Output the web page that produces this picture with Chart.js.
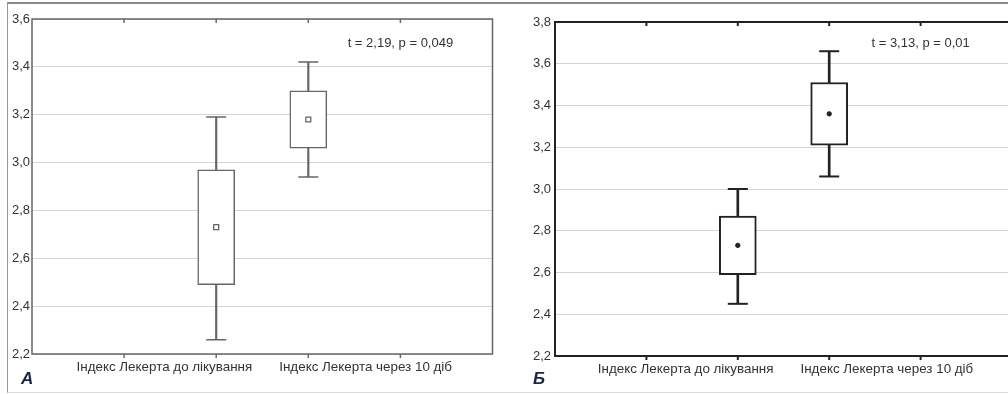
<!DOCTYPE html>
<html>
<head>
<meta charset="utf-8">
<script src="https://cdn.jsdelivr.net/npm/chart.js@4"></script>
<style>
  html, body { margin: 0; padding: 0; background: #fff; overflow: hidden; }
  body { width: 1008px; height: 394px; position: relative; }
  #frame { position: absolute; left: 7px; top: 2px; width: 1001px; height: 388px;
           border-top: 2px solid #8a8a8a; border-left: 1px solid #9a9a9a; border-bottom: 1px solid #dcdcdc; }
  canvas { position: absolute; top: 0; }
  #chartA { left: 0; }
  #chartB { left: 504px; }
  .letter { position: absolute; top: 369px; font: italic bold 17px "Liberation Sans", Arial, sans-serif; color: #1c2444; }
</style>
</head>
<body>
<div id="frame"></div>
<canvas id="chartA" width="504" height="394"></canvas>
<canvas id="chartB" width="520" height="394"></canvas>
<div class="letter" style="left:21px">А</div>
<div class="letter" style="left:533px">Б</div>
<script>
Chart.defaults.font.family = '"Liberation Sans", Arial, sans-serif';

var categories = ['Індекс Лекерта до лікування', 'Індекс Лекерта через 10 діб'];
var catPos = [2, 3];

// panel A
var meanA = [2.73, 3.18];
var boxLowA = [2.49, 3.06];
var boxHighA = [2.97, 3.30];
var whiskLowA = [2.26, 2.94];
var whiskHighA = [3.19, 3.42];
var yRangeA = [2.2, 3.6];
var statA = 't = 2,19, p = 0,049';

// panel B
var meanB = [2.73, 3.36];
var boxLowB = [2.59, 3.21];
var boxHighB = [2.87, 3.51];
var whiskLowB = [2.45, 3.06];
var whiskHighB = [3.00, 3.66];
var yRangeB = [2.2, 3.8];
var statB = 't = 3,13, p = 0,01';

var xTicks = [1, 2, 3, 4];

function pts(vals) {
    return vals.map(function(v, i) { return {x: catPos[i], y: v}; });
}
function spans(lo, hi) {
    return lo.map(function(v, i) { return {x: catPos[i], y: [v, hi[i]]}; });
}

var framePlugin = {
    id: 'frame',
    afterDatasetsDraw: function(chart, args, o) {
        var ctx = chart.ctx, a = chart.chartArea, xs = chart.scales.x, ys = chart.scales.y;
        ctx.save();
        ctx.strokeStyle = o.color;
        ctx.lineWidth = o.width;
        ctx.strokeRect(a.left, a.top, a.right - a.left, a.bottom - a.top);
        ctx.beginPath();
        xTicks.forEach(function(t) {
            var px = xs.getPixelForValue(t);
            ctx.moveTo(px, a.top);
            ctx.lineTo(px, a.top + 4);
            ctx.moveTo(px, a.bottom);
            ctx.lineTo(px, a.bottom + 4);
        });
        ctx.stroke();

        ctx.fillStyle = '#333';
        ctx.font = '13px "Liberation Sans", Arial, sans-serif';
        ctx.textBaseline = 'middle';
        ctx.textAlign = 'center';
        ctx.fillText(o.stat, xs.getPixelForValue(4), ys.getPixelForValue(o.statY));

        // category labels, pushed apart around the midpoint of the two boxes
        var mid = xs.getPixelForValue((catPos[0] + catPos[1]) / 2);
        var ly = a.bottom + 13;
        ctx.font = '13.4px "Liberation Sans", Arial, sans-serif';
        ctx.textAlign = 'right';
        ctx.fillText(categories[0], mid - 10, ly);
        ctx.textAlign = 'left';
        ctx.fillText(categories[1], mid + 17, ly);
        ctx.restore();
    }
};

function makeChart(id, p) {
    return new Chart(document.getElementById(id), {
        type: 'bar',
        data: {
            datasets: [
                {type: 'scatter', data: pts(p.mean), pointStyle: p.meanStyle, radius: p.meanRadius,
                 backgroundColor: p.meanFill, borderColor: p.color, borderWidth: p.meanBorder},
                {type: 'scatter', data: pts(p.whiskLow).concat(pts(p.whiskHigh)), pointStyle: 'line',
                 radius: 10, borderColor: p.color, borderWidth: p.lw},
                {data: spans(p.boxLow, p.boxHigh), grouped: false, barThickness: 37,
                 backgroundColor: '#fff', borderColor: p.color, borderWidth: p.lw, borderSkipped: false},
                {data: spans(p.boxHigh, p.whiskHigh), grouped: false, barThickness: p.lw,
                 backgroundColor: p.color, borderWidth: 0},
                {data: spans(p.whiskLow, p.boxLow), grouped: false, barThickness: p.lw,
                 backgroundColor: p.color, borderWidth: 0}
            ]
        },
        options: {
            responsive: false,
            animation: false,
            events: [],
            layout: {padding: {left: 0, top: p.top, right: p.right, bottom: 0}},
            plugins: {
                legend: {display: false},
                tooltip: {enabled: false},
                frame: {color: p.color, width: p.lw, stat: p.stat, statY: p.statY}
            },
            scales: {
                x: {
                    type: 'linear', min: 0, max: 5, offset: false,
                    grid: {display: false, drawTicks: false, offset: false},
                    border: {display: false},
                    ticks: {display: false},
                    afterFit: function(s) { s.height = p.xh; }
                },
                y: {
                    min: p.yRange[0], max: p.yRange[1],
                    grid: {color: '#d4d4d4', drawTicks: false},
                    border: {display: false},
                    ticks: {
                        stepSize: 0.2, padding: p.tickPad, color: '#333',
                        font: {size: 13},
                        callback: function(v) { return v.toFixed(1).replace('.', ','); }
                    },
                    afterFit: function(s) { s.width = p.yw; }
                }
            }
        },
        plugins: [framePlugin]
    });
}

makeChart('chartA', {
    mean: meanA, boxLow: boxLowA, boxHigh: boxHighA, whiskLow: whiskLowA, whiskHigh: whiskHighA,
    yRange: yRangeA, stat: statA, statY: 3.5,
    color: '#666', lw: 1.5, meanStyle: 'rect', meanRadius: 3.5, meanFill: '#fff', meanBorder: 1.3,
    top: 19, right: 10, xh: 40, yw: 32, tickPad: 2
});

makeChart('chartB', {
    mean: meanB, boxLow: boxLowB, boxHigh: boxHighB, whiskLow: whiskLowB, whiskHigh: whiskHighB,
    yRange: yRangeB, stat: statB, statY: 3.695,
    color: '#222', lw: 2, meanStyle: 'circle', meanRadius: 2.2, meanFill: '#222', meanBorder: 1,
    top: 22, right: 8, xh: 38, yw: 51, tickPad: 4
});
</script>
</body>
</html>
